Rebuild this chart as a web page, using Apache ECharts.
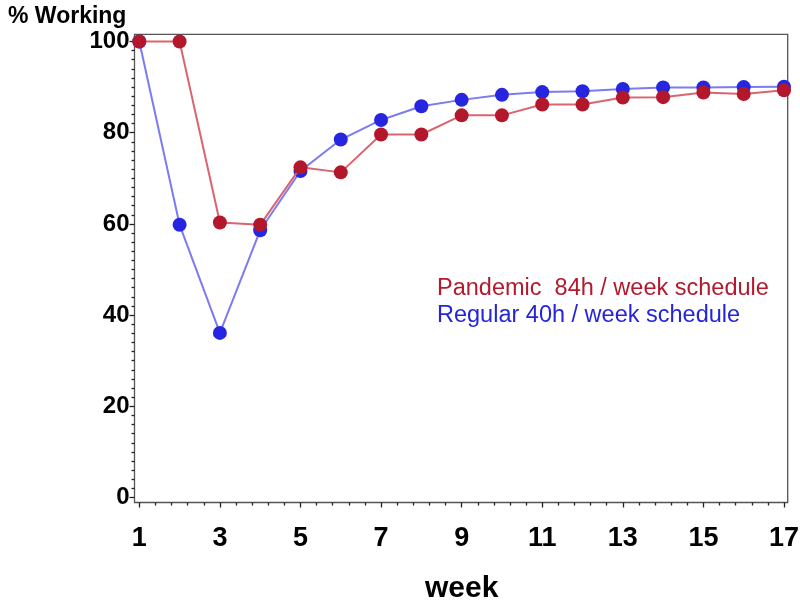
<!DOCTYPE html>
<html>
<head>
<meta charset="utf-8">
<script src="https://cdn.jsdelivr.net/npm/echarts@6/dist/echarts.min.js"></script>
<style>
html,body{margin:0;padding:0;background:#fff;}
#chart{width:800px;height:601px;}
</style>
</head>
<body>
<div id="chart"></div>
<script>
var weeks = [1,2,3,4,5,6,7,8,9,10,11,12,13,14,15,16,17];
var pandemic = [100,100,60.3,59.8,72.4,71.3,79.6,79.6,83.8,83.8,86.2,86.2,87.7,87.8,88.8,88.5,89.3];
var regular = [100,59.8,36.1,58.6,71.6,78.5,82.8,85.8,87.2,88.3,88.9,89.1,89.6,89.9,89.9,90.0,90.1];
var seriesNames = ['Pandemic  84h / week schedule', 'Regular 40h / week schedule'];
var yTitle = '% Working';
var xTitle = 'week';

function pairs(vals){ return weeks.map(function(w,i){ return [w, vals[i]]; }); }

var FONT = '"Liberation Sans", Arial, sans-serif';
var chart = echarts.init(document.getElementById('chart'), null, {renderer:'canvas'});
chart.setOption({
  animation:false,
  backgroundColor:'#ffffff',
  title:{
    text: yTitle, left: 3, top: 0,
    textStyle:{fontFamily:FONT, fontSize:23, fontWeight:'bold', color:'#000'}
  },
  grid:[
    {left:139.3, right:16, top:41.5, bottom:103.5, show:false, containLabel:false, outerBoundsMode:'none'},
    {left:134.5, right:12.3, top:34.3, bottom:98.5, show:true, borderColor:'#555', borderWidth:1.3, backgroundColor:'transparent', containLabel:false, outerBoundsMode:'none'}
  ],
  xAxis:[
    {type:'value', gridIndex:0, min:1, max:17, interval:2, offset:5,
     axisLine:{show:false, onZero:false},
     axisTick:{show:true, inside:false, length:5, lineStyle:{color:'#222', width:1.3}},
     minorTick:{show:true, splitNumber:5, length:3, lineStyle:{color:'#222', width:1.3}},
     splitLine:{show:false}, minorSplitLine:{show:false},
     axisLabel:{fontFamily:FONT, fontSize:27, fontWeight:'bold', color:'#000', margin:23},
     name: xTitle, nameLocation:'middle', nameGap:71,
     nameTextStyle:{fontFamily:FONT, fontSize:30, fontWeight:'bold', color:'#000'}
    },
    {type:'value', gridIndex:1, show:false, min:0, max:1}
  ],
  yAxis:[
    {type:'value', gridIndex:0, min:0, max:100, interval:20, offset:4.8,
     axisLine:{show:false, onZero:false},
     axisTick:{show:true, inside:false, length:5, lineStyle:{color:'#222', width:1.3}},
     minorTick:{show:true, splitNumber:10, length:3, lineStyle:{color:'#222', width:1.3}},
     splitLine:{show:false}, minorSplitLine:{show:false},
     axisLabel:{fontFamily:FONT, fontSize:24, fontWeight:'bold', color:'#000', margin:5}
    },
    {type:'value', gridIndex:1, show:false, min:0, max:1}
  ],
  graphic:[
    {type:'text', left:437, top:277, z:100,
     style:{text:seriesNames[0], fill:'#b31a2e', font:'23.5px "Liberation Sans", Arial, sans-serif'}},
    {type:'text', left:437, top:304, z:100,
     style:{text:seriesNames[1], fill:'#2424dc', font:'23.5px "Liberation Sans", Arial, sans-serif'}}
  ],
  series:[
    {name:seriesNames[1], type:'line', xAxisIndex:0, yAxisIndex:0, data:pairs(regular),
     symbol:'circle', symbolSize:14, clip:false,
     lineStyle:{color:'#7b7bf2', width:2},
     itemStyle:{color:'#2626e0'}, z:2},
    {name:seriesNames[0], type:'line', xAxisIndex:0, yAxisIndex:0, data:pairs(pandemic),
     symbol:'circle', symbolSize:14, clip:false,
     lineStyle:{color:'#da6470', width:2},
     itemStyle:{color:'#b3172c'}, z:3}
  ]
});
</script>
</body>
</html>
